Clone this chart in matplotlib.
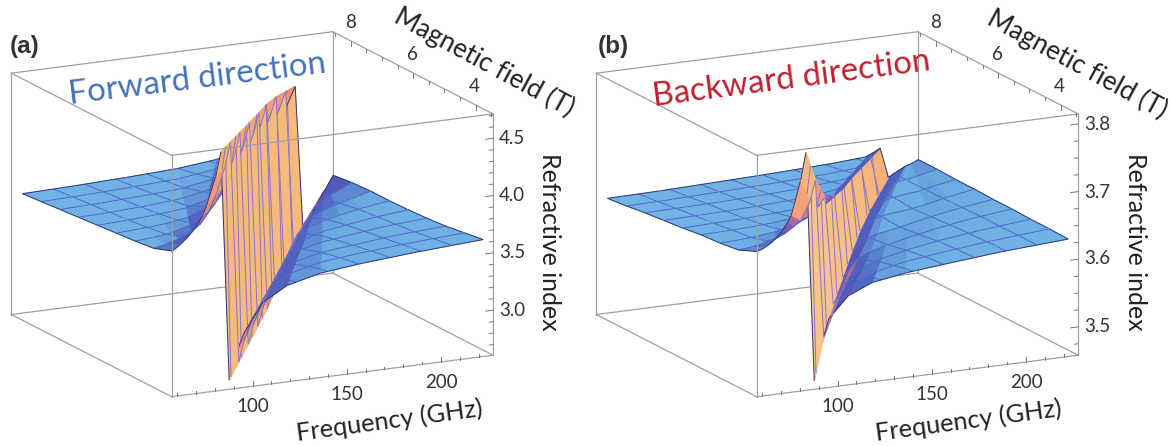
import numpy as np
import matplotlib
matplotlib.use('Agg')
import matplotlib.pyplot as plt
from matplotlib.colors import LinearSegmentedColormap
from mpl_toolkits.mplot3d import proj3d
from mpl_toolkits.mplot3d.art3d import Poly3DCollection

W, H = 1170, 446

# values
field_rows = [3.6, 4.2, 4.8, 5.4, 6.0, 6.6, 7.2, 7.8, 8.4]
resonance = [88, 103, 118, 133, 148, 162, 177, 192, 207]
mesh_freqs = [76.5, 93, 109.5, 126, 142.5, 159, 175.5, 192, 208.5]

# one row per field value, columns go from 60 GHz over the resonance to 225 GHz
index_forward = [
    [3.85, 3.89, 3.94, 4.00, 4.06, 4.12, 4.20, 4.45, 4.66, 2.66, 2.85, 3.05, 3.30, 3.42, 3.49, 3.53, 3.565, 3.60],
    [3.79, 3.81, 3.84, 3.89, 3.95, 4.04, 4.18, 4.43, 4.63, 2.70, 2.88, 3.08, 3.32, 3.42, 3.48, 3.515, 3.545, 3.575],
    [3.77, 3.78, 3.80, 3.84, 3.90, 4.00, 4.17, 4.41, 4.60, 2.74, 2.91, 3.11, 3.32, 3.41, 3.46, 3.49, 3.525, 3.55],
    [3.755, 3.765, 3.78, 3.81, 3.87, 3.97, 4.16, 4.39, 4.57, 2.78, 2.94, 3.14, 3.33, 3.40, 3.445, 3.475, 3.51, 3.535],
    [3.74, 3.75, 3.765, 3.79, 3.84, 3.95, 4.15, 4.37, 4.54, 2.82, 2.97, 3.17, 3.33, 3.385, 3.43, 3.46, 3.495, 3.525],
    [3.725, 3.735, 3.75, 3.775, 3.82, 3.92, 4.13, 4.34, 4.50, 2.86, 3.00, 3.20, 3.33, 3.375, 3.415, 3.45, 3.485, 3.52],
    [3.71, 3.72, 3.735, 3.755, 3.80, 3.89, 4.10, 4.31, 4.45, 2.90, 3.03, 3.22, 3.32, 3.365, 3.40, 3.44, 3.475, 3.52],
    [3.695, 3.705, 3.72, 3.74, 3.78, 3.86, 4.07, 4.26, 4.38, 2.94, 3.07, 3.26, 3.31, 3.35, 3.385, 3.425, 3.46, 3.51],
    [3.68, 3.69, 3.705, 3.725, 3.76, 3.83, 4.03, 4.21, 4.31, 2.97, 3.10, 3.28, 3.30, 3.32, 3.35, 3.38, 3.43, 3.49],
]
index_backward = [
    [3.668, 3.672, 3.678, 3.686, 3.695, 3.704, 3.715, 3.765, 3.805, 3.466, 3.51, 3.555, 3.585, 3.60, 3.608, 3.614, 3.621, 3.627],
    [3.656, 3.658, 3.661, 3.666, 3.672, 3.680, 3.688, 3.715, 3.745, 3.51, 3.53, 3.565, 3.585, 3.598, 3.607, 3.614, 3.621, 3.628],
    [3.652, 3.653, 3.655, 3.658, 3.662, 3.668, 3.675, 3.69, 3.70, 3.54, 3.55, 3.575, 3.588, 3.598, 3.606, 3.614, 3.621, 3.628],
    [3.650, 3.651, 3.652, 3.654, 3.657, 3.661, 3.666, 3.676, 3.682, 3.56, 3.568, 3.585, 3.592, 3.599, 3.606, 3.614, 3.622, 3.629],
    [3.646, 3.647, 3.648, 3.650, 3.652, 3.656, 3.660, 3.670, 3.675, 3.58, 3.585, 3.595, 3.600, 3.603, 3.608, 3.615, 3.622, 3.629],
    [3.643, 3.644, 3.645, 3.647, 3.649, 3.652, 3.656, 3.665, 3.670, 3.59, 3.595, 3.605, 3.608, 3.610, 3.612, 3.616, 3.623, 3.630],
    [3.640, 3.641, 3.642, 3.644, 3.646, 3.649, 3.652, 3.660, 3.665, 3.60, 3.605, 3.612, 3.615, 3.616, 3.618, 3.620, 3.625, 3.630],
    [3.636, 3.637, 3.639, 3.641, 3.643, 3.645, 3.648, 3.655, 3.660, 3.605, 3.61, 3.618, 3.620, 3.621, 3.622, 3.624, 3.627, 3.631],
    [3.633, 3.634, 3.636, 3.638, 3.640, 3.642, 3.645, 3.651, 3.655, 3.61, 3.615, 3.622, 3.623, 3.624, 3.625, 3.626, 3.628, 3.631],
]

freq_lim = (57.0, 227.7)
field_lim = (3.44, 8.58)
zlim_a = (2.607, 4.713)
zlim_b = (3.458, 3.815)

freq_major = [100, 150, 200]
freq_minor = [60, 70, 80, 90, 110, 120, 130, 140, 160, 170, 180, 190, 210, 220]
field_major = [4, 6, 8]
field_minor = [3.5, 4.5, 5, 5.5, 6.5, 7, 7.5, 8.5]
z_major_a = [3.0, 3.5, 4.0, 4.5]
z_minor_a = [2.7, 2.8, 2.9, 3.1, 3.2, 3.3, 3.4, 3.6, 3.7, 3.8, 3.9, 4.1, 4.2, 4.3, 4.4, 4.6, 4.7]
z_major_b = [3.5, 3.6, 3.7, 3.8]
z_minor_b = [3.475, 3.525, 3.55, 3.575, 3.625, 3.65, 3.675, 3.725, 3.75, 3.775]

z_labels_a = [('4.5', 138), ('4.0', 196), ('3.5', 252), ('3.0', 310)]
z_labels_b = [('3.8', 124), ('3.7', 192), ('3.6', 259), ('3.5', 327)]

ELEV, AZIM = 14.9, -116.65
BOX = np.array([360.0, 358.0, 250.0])
MESH = '#5068c8'
SHEET_MESH = '#8474c8'
EDGE = '#2f3a78'
GREY = '#a0a0a0'

el, az = np.radians(ELEV), np.radians(AZIM)
cam = np.array([np.cos(el) * np.cos(az), np.cos(el) * np.sin(az), np.sin(el)])


def tilt_colours(sheet, sheet_end):
    return LinearSegmentedColormap.from_list('tilt', [
        (0.0, '#74b6e8'), (0.1, '#6bace2'), (0.3, '#4f63c0'), (0.5, '#5850b2'),
        (0.65, '#b8689f'), (0.78, '#ee8a7c'), (0.88, sheet), (1.0, sheet_end)])


def row_nodes(fr):
    low = 60 + (fr - 70) * np.array([0, 0.2, 0.4, 0.6, 0.75, 0.88])
    near = fr + np.array([-10, -5, -2.2, 2.2, 5, 10])
    high = fr + 10 + (215 - fr) * np.array([0.08, 0.18, 0.32, 0.5, 0.72, 1.0])
    return np.concatenate([low, near, high])


def surface(ax, table, zlim, tilt_map):
    lo = np.array([freq_lim[0], field_lim[0], zlim[0]])
    hi = np.array([freq_lim[1], field_lim[1], zlim[1]])
    to_box = lambda p: (p - lo) / (hi - lo) * BOX
    depth = lambda p: (to_box(p) @ cam).mean()
    nudge = cam / BOX * (hi - lo)

    nc = len(table[0])
    grid = np.zeros((len(field_rows), nc, 3))
    for i, b in enumerate(field_rows):
        grid[i, :, 0] = row_nodes(resonance[i])
        grid[i, :, 1] = b
        grid[i, :, 2] = table[i]

    verts, faces, edges = [], [], []

    def add_line(pts, owner_depth, colour):
        # slide the segment along the view so it sorts right after its facet
        pts = np.array(pts)
        shift = owner_depth - depth(pts) + 0.01
        verts.append(pts + shift * nudge)
        faces.append((0, 0, 0, 0))
        edges.append(colour)

    for i in range(len(field_rows) - 1):
        for j in range(nc - 1):
            quad = np.array([grid[i, j], grid[i, j + 1], grid[i + 1, j + 1], grid[i + 1, j]])
            q = to_box(quad)
            n = np.cross(q[2] - q[0], q[3] - q[1])
            tilt = np.arccos(abs(n[2]) / np.linalg.norm(n)) / (np.pi / 2)
            c = tilt_map(tilt)
            d = depth(quad)
            verts.append(quad)
            faces.append(c)
            edges.append(c)

            line_col = SHEET_MESH if tilt > 0.8 else MESH
            for fm in mesh_freqs:
                pts = []
                for k in range(4):
                    a, b = quad[k], quad[(k + 1) % 4]
                    if (a[0] - fm) * (b[0] - fm) < 0:
                        pts.append(a + (fm - a[0]) / (b[0] - a[0]) * (b - a))
                if len(pts) == 2:
                    add_line(pts, d, line_col)
            add_line([grid[i + 1, j], grid[i + 1, j + 1]], d, EDGE if i == len(field_rows) - 2 else line_col)
            if i == 0:
                add_line([grid[0, j], grid[0, j + 1]], d, EDGE)
            if j == 0:
                add_line([grid[i, 0], grid[i + 1, 0]], d, EDGE)
            if j == nc - 2:
                add_line([grid[i, nc - 1], grid[i + 1, nc - 1]], d, EDGE)

    coll = Poly3DCollection(verts, facecolors=faces, edgecolors=edges, linewidths=0.7, zorder=2)
    coll.set_facecolor(faces)
    coll.set_edgecolor(edges)
    ax.add_collection3d(coll, autolim=False)


def place(ax, dx, zlim):
    # scale and shift the axes so the box lands where it is in the picture
    x = [freq_lim[0], freq_lim[0], freq_lim[1]]
    y = [field_lim[0], field_lim[1], field_lim[0]]
    z = [zlim[0]] * 3
    side = 700.0
    cx, cy = dx + 300.0, 220.0
    for _ in range(3):
        ax.set_position([(cx - side / 2) / W, (cy - side / 2) / H, side / W, side / H])
        ax.apply_aspect()
        xs, ys, _z = proj3d.proj_transform(x, y, z, ax.get_proj())
        px = ax.transData.transform(np.column_stack([xs, ys]))
        side *= 481.8 / (px[2, 0] - px[1, 0])
        cx += 171.7 + dx - px[0, 0]
        cy += (H - 396.7) - px[0, 1]
    ax.set_position([(cx - side / 2) / W, (cy - side / 2) / H, side / W, side / H])


def box_and_ticks(ax, zlim, z_major, z_minor):
    f0, f1 = freq_lim
    b0, b1 = field_lim
    z0, z1 = zlim
    back = [((f0, b1, z0), (f1, b1, z0)), ((f1, b0, z0), (f1, b1, z0)),
            ((f1, b1, z0), (f1, b1, z1))]
    front = [((f0, b0, z0), (f1, b0, z0)), ((f0, b0, z0), (f0, b1, z0)),
             ((f0, b0, z0), (f0, b0, z1)), ((f1, b0, z0), (f1, b0, z1)),
             ((f0, b1, z0), (f0, b1, z1)), ((f0, b0, z1), (f1, b0, z1)),
             ((f0, b0, z1), (f0, b1, z1)), ((f0, b1, z1), (f1, b1, z1)),
             ((f1, b0, z1), (f1, b1, z1))]
    for seg, order in [(back, 1), (front, 3)]:
        for p, q in seg:
            ax.plot(*zip(p, q), color=GREY, lw=0.9, zorder=order)

    dz = z1 - z0
    tick = dict(color='#777777', lw=0.7, zorder=3)
    for v, ln in [(v, 0.022) for v in freq_major] + [(v, 0.011) for v in freq_minor]:
        ax.plot([v, v], [b0, b0], [z0, z0 + ln * dz], **tick)
    for v, ln in [(v, 0.022) for v in field_major] + [(v, 0.011) for v in field_minor]:
        ax.plot([f1, f1], [v, v], [z1, z1 - ln * dz], **tick)
    for v, ln in [(v, 4.0) for v in z_major] + [(v, 2.0) for v in z_minor]:
        ax.plot([f1, f1 - ln], [b0, b0], [v, v], **tick)


def label(x, y, s, **kw):
    kw.setdefault('ha', 'center')
    kw.setdefault('va', 'center')
    kw.setdefault('family', 'Lato')
    kw.setdefault('color', '#333333')
    fig.text(x / W, 1 - y / H, s, **kw)


fig = plt.figure(figsize=(W / 100, H / 100), dpi=100, facecolor='white')

panels = [
    (0, index_forward, zlim_a, z_major_a, z_minor_a, z_labels_a, '(a)', 'Forward direction', 197, 79, '#4472b8', 7.0, 389,
     tilt_colours('#f5b06e', '#f7bc80')),
    (585, index_backward, zlim_b, z_major_b, z_minor_b, z_labels_b, '(b)', 'Backward direction', 206, 79, '#c0202e', 7.4, 383,
     tilt_colours('#f8b47a', '#fbc894')),
]

for dx, table, zlim, z_major, z_minor, z_labels, tag, title, tx, ty, tcol, trot, fx, cmap in panels:
    ax = fig.add_axes([0, 0, 0.5, 1], projection='3d', proj_type='ortho', computed_zorder=False)
    ax.set_box_aspect(BOX)
    ax.view_init(elev=ELEV, azim=AZIM, roll=0)
    ax.set_xlim(*freq_lim, view_margin=0)
    ax.set_ylim(*field_lim, view_margin=0)
    ax.set_zlim(*zlim, view_margin=0)
    ax.set_axis_off()
    ax.patch.set_visible(False)
    place(ax, dx, zlim)

    box_and_ticks(ax, zlim, z_major, z_minor)
    surface(ax, table, zlim, cmap)

    for s, y in z_labels:
        label(dx + 512, y, s, fontsize=13.5)
    label(dx + 253, 406, '100', fontsize=13.5)
    label(dx + 347, 394, '150', fontsize=13.5)
    label(dx + 441, 382, '200', fontsize=13.5)
    label(dx + 351, 23, '8', fontsize=13.5)
    label(dx + 412, 54, '6', fontsize=13.5)
    label(dx + 474, 87, '4', fontsize=13.5)

    label(dx + 25 + (3 if dx else 0), 47, tag, fontsize=17.5, fontweight='bold', family='Liberation Sans')
    label(dx + tx, ty, title, fontsize=23.7, color=tcol, rotation=trot, rotation_mode='anchor')
    label(dx + (484 if dx == 0 else 492), 62 if dx == 0 else 64, 'Magnetic field (T)', fontsize=18.8,
          color='#222222', rotation=-28.4, rotation_mode='anchor')
    label(dx + (549 if dx == 0 else 551), 242, 'Refractive index', fontsize=18.0, color='#222222', rotation=-90)
    label(dx + fx, 421, 'Frequency (GHz)', fontsize=18.3, color='#222222', rotation=7.7, rotation_mode='anchor')

fig.savefig('out.png', dpi=100)
